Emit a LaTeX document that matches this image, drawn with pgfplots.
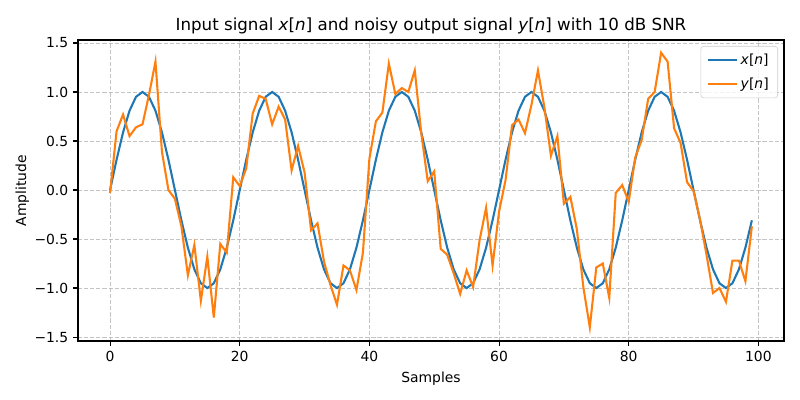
\documentclass[border=0pt]{standalone}
\usepackage{pgfplots}
\usepackage{pgfplotstable}
\pgfplotsset{compat=1.18}
\usepackage{fontspec}
\setmainfont{DejaVu Sans}
\definecolor{mplblue}{HTML}{1F77B4}
\definecolor{mplorange}{HTML}{FF7F0E}
\definecolor{gridgray}{HTML}{B0B0B0}
\pgfplotstableread{
n x y
0 0.000 -0.03
1 0.309 0.60
2 0.588 0.77
3 0.809 0.55
4 0.951 0.64
5 1.000 0.67
6 0.951 0.97
7 0.809 1.31
8 0.588 0.39
9 0.309 0.00
10 0.000 -0.09
11 -0.309 -0.37
12 -0.588 -0.87
13 -0.809 -0.56
14 -0.951 -1.13
15 -1.000 -0.68
16 -0.951 -1.30
17 -0.809 -0.55
18 -0.588 -0.64
19 -0.309 0.13
20 0.000 0.04
21 0.309 0.22
22 0.588 0.78
23 0.809 0.96
24 0.951 0.93
25 1.000 0.67
26 0.951 0.85
27 0.809 0.72
28 0.588 0.20
29 0.309 0.45
30 0.000 0.18
31 -0.309 -0.41
32 -0.588 -0.34
33 -0.809 -0.73
34 -0.951 -0.97
35 -1.000 -1.17
36 -0.951 -0.77
37 -0.809 -0.82
38 -0.588 -1.02
39 -0.309 -0.64
40 0.000 0.32
41 0.309 0.70
42 0.588 0.79
43 0.809 1.29
44 0.951 0.98
45 1.000 1.04
46 0.951 1.00
47 0.809 1.22
48 0.588 0.58
49 0.309 0.09
50 0.000 0.19
51 -0.309 -0.60
52 -0.588 -0.66
53 -0.809 -0.85
54 -0.951 -1.06
55 -1.000 -0.82
56 -0.951 -0.99
57 -0.809 -0.51
58 -0.588 -0.18
59 -0.309 -0.77
60 0.000 -0.22
61 0.309 0.10
62 0.588 0.66
63 0.809 0.72
64 0.951 0.58
65 1.000 0.87
66 0.951 1.22
67 0.809 0.84
68 0.588 0.35
69 0.309 0.55
70 0.000 -0.14
71 -0.309 -0.07
72 -0.588 -0.40
73 -0.809 -0.99
74 -0.951 -1.40
75 -1.000 -0.79
76 -0.951 -0.75
77 -0.809 -1.10
78 -0.588 -0.03
79 -0.309 0.05
80 0.000 -0.12
81 0.309 0.33
82 0.588 0.51
83 0.809 0.93
84 0.951 1.00
85 1.000 1.40
86 0.951 1.31
87 0.809 0.63
88 0.588 0.48
89 0.309 0.08
90 0.000 -0.01
91 -0.309 -0.30
92 -0.588 -0.66
93 -0.809 -1.05
94 -0.951 -1.00
95 -1.000 -1.14
96 -0.951 -0.72
97 -0.809 -0.72
98 -0.588 -0.93
99 -0.309 -0.37
}\sigdata
\begin{document}
\begin{tikzpicture}
\path[use as bounding box] (-56.16pt,-42.48pt) rectangle (519.84pt,245.52pt);
\begin{axis}[
  at={(0pt,0pt)}, anchor=south west,
  scale only axis,
  width=508.3pt, height=216.7pt,
  xmin=-4.95, xmax=103.95,
  ymin=-1.54, ymax=1.53,
  xtick={0,20,40,60,80,100},
  ytick={-1.5,-1,-0.5,0,0.5,1,1.5},
  yticklabels={−1.5,−1.0,−0.5,0.0,0.5,1.0,1.5},
  xticklabel style={/pgf/number format/assume math mode=true},
  tick label style={font=\fontsize{10}{12}\selectfont},
  tick align=outside,
  major tick length=3.5pt,
  tick pos=left,
  every tick/.style={black, line width=0.8pt},
  axis line style={line width=0.8pt},
  grid=major,
  major grid style={gridgray, opacity=0.75, line width=0.6pt, dash pattern=on 3pt off 1.4pt},
  title={Input signal \textit{x}[\textit{n}] and noisy output signal \textit{y}[\textit{n}] with 10 dB SNR},
  title style={font=\fontsize{12}{14}\selectfont, yshift=-5.5pt},
  xlabel={Samples},
  ylabel={Amplitude},
  label style={font=\fontsize{10}{12}\selectfont},
  xlabel style={yshift=-0.5pt},
  ylabel style={yshift=-3pt},
  legend style={at={(1,1)}, xshift=-4.3pt, yshift=-4.3pt, anchor=north east, draw=gray!40, rounded corners=2pt,
    fill=white, fill opacity=0.8, text opacity=1, font=\fontsize{10}{12}\selectfont,
    row sep=4pt, inner xsep=4.5pt, inner ysep=3.5pt},
  legend cell align=left,
  legend image code/.code={\draw[#1] (0pt,0pt) -- (20.6pt,0pt);},
]
\addplot[mplblue, line width=1.5pt] table[x=n, y=x] {\sigdata};
\addlegendentry{\textit{x}[\textit{n}]}
\addplot[mplorange, line width=1.5pt] table[x=n, y=y] {\sigdata};
\addlegendentry{\textit{y}[\textit{n}]}
\end{axis}
\end{tikzpicture}
\end{document}
